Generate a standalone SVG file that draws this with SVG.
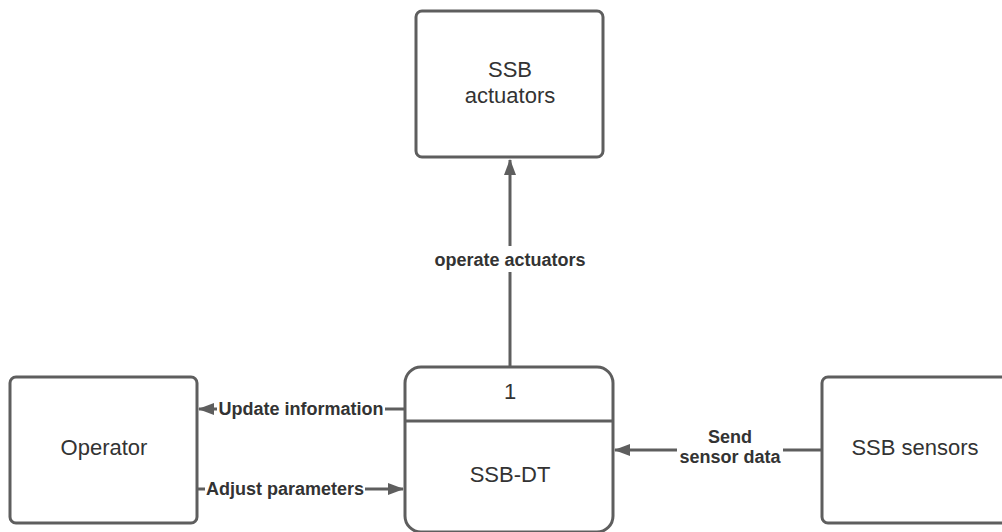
<svg xmlns="http://www.w3.org/2000/svg" width="1002" height="532" viewBox="0 0 1002 532">
<style>
.box{fill:#fff;stroke:#5e5e5e;stroke-width:3}
.t{font-family:"Liberation Sans",Arial,sans-serif;font-size:22px;fill:#333;text-anchor:middle}
.lbl{font-family:"Liberation Sans",Arial,sans-serif;font-size:18px;font-weight:bold;fill:#333;text-anchor:middle}
.c{stroke:#5e5e5e;stroke-width:3;fill:none}
.bg{fill:#fff}
</style>
<defs>
<marker id="ah" markerWidth="16" markerHeight="12" refX="15" refY="6" orient="auto" markerUnits="userSpaceOnUse">
<path d="M0,0 L16,6 L0,12 z" fill="#5e5e5e"/>
</marker>
</defs>
<g id="actuators">
<rect class="box" x="416" y="11" width="187" height="146" rx="6"/>
<text class="t" x="510" y="77">SSB</text>
<text class="t" x="510" y="103">actuators</text>
</g>
<g id="operator">
<rect class="box" x="10" y="377" width="187" height="146" rx="6"/>
<text class="t" x="104" y="455">Operator</text>
</g>
<g id="ssbdt">
<rect class="box" x="405" y="367" width="208" height="165" rx="16"/>
<line class="c" x1="405" y1="421" x2="613" y2="421"/>
<text class="t" x="510" y="399">1</text>
<text class="t" x="510" y="482">SSB-DT</text>
</g>
<g id="sensors">
<rect class="box" x="822" y="377" width="200" height="146" rx="6"/>
<text class="t" x="915" y="455">SSB sensors</text>
</g>
<g id="connectors">
<line class="c" x1="510" y1="367" x2="510" y2="160" marker-end="url(#ah)"/>
<rect class="bg" x="432" y="246" width="156" height="26"/>
<text class="lbl" x="510" y="266">operate actuators</text>
<line class="c" x1="405" y1="409" x2="199" y2="409" marker-end="url(#ah)"/>
<rect class="bg" x="217" y="399" width="168" height="20"/>
<text class="lbl" x="301" y="415">Update information</text>
<line class="c" x1="197" y1="489" x2="403" y2="489" marker-end="url(#ah)"/>
<rect class="bg" x="205" y="479" width="160" height="20"/>
<text class="lbl" x="285" y="495">Adjust parameters</text>
<line class="c" x1="822" y1="450" x2="615" y2="450" marker-end="url(#ah)"/>
<rect class="bg" x="677" y="428" width="106" height="40"/>
<text class="lbl" x="730" y="443">Send</text>
<text class="lbl" x="730" y="463">sensor data</text>
</g>
</svg>
